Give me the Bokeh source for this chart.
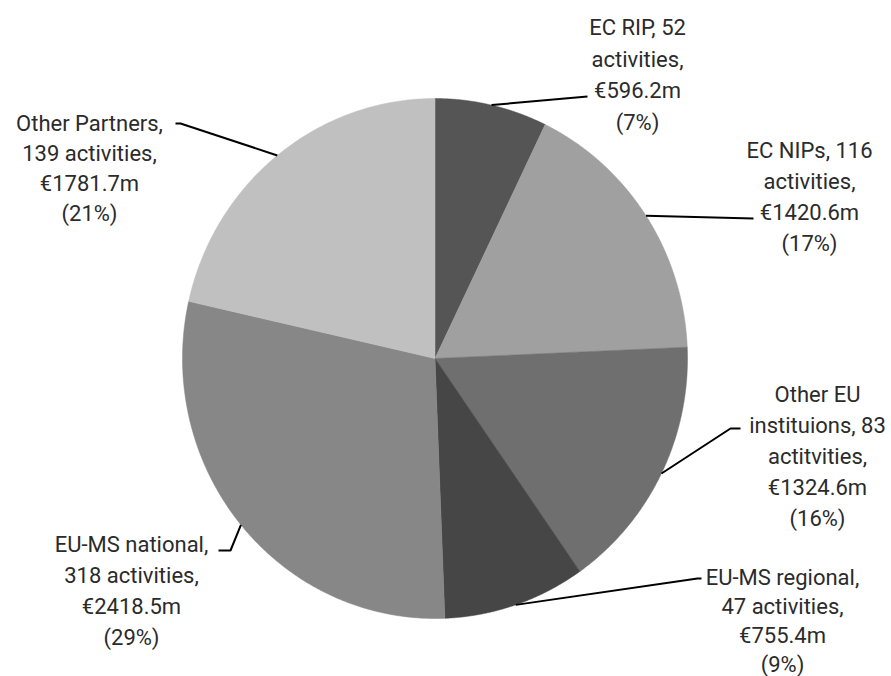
import numpy as np
from bokeh.plotting import figure
from bokeh.models import Range1d
from bokeh.core.properties import value
from bokeh.embed import file_html
from bokeh.resources import INLINE

# ---- data ----
categories = ["EC RIP", "EC NIPs", "Other EU instituions", "EU-MS regional",
              "EU-MS national", "Other Partners"]
amounts_m = [596.2, 1420.6, 1324.6, 755.4, 2418.5, 1781.7]
activities = [52, 116, 83, 47, 318, 139]
percent_labels = ["7%", "17%", "16%", "9%", "29%", "21%"]
label_lines = [
    ["EC RIP, 52", "activities,", "€596.2m", "(7%)"],
    ["EC NIPs, 116", "activities,", "€1420.6m", "(17%)"],
    ["Other EU", "instituions, 83", "actitvities,", "€1324.6m", "(16%)"],
    ["EU-MS regional,", "47 activities,", "€755.4m", "(9%)"],
    ["EU-MS national,", "318 activities,", "€2418.5m", "(29%)"],
    ["Other Partners,", "139 activities,", "€1781.7m", "(21%)"],
]

# ---- style / layout ----
colors = ["#555555", "#a0a0a0", "#6f6f6f", "#464646", "#878787", "#c0c0c0"]
W, H = 891, 676
CX, CY, RX, RY = 434.5, 358.0, 252.5, 260.0
FONT = "Roboto"
FSIZE = "22px"
TEXT_COLOR = "#2b2b2b"
# label block: centre x, first line y, line step
label_pos = [(637, 27, 31.5), (809, 150, 31), (817, 394, 31),
             (782, 577, 29), (131, 544, 31), (89, 123, 30)]
# leader line points after the pie-edge start
leader_tail = [[(587, 96)], [(753, 218)], [(730, 428), (740, 428)],
               [(697, 578), (701, 578)], [(230, 550), (218, 550)],
               [(180, 123), (175, 123)]]

p = figure(width=W, height=H, x_range=Range1d(0, W), y_range=Range1d(H, 0),
           output_backend="svg", toolbar_location=None, min_border=0,
           outline_line_color=None)
p.axis.visible = False
p.grid.visible = False
p.background_fill_color = "white"
p.border_fill_color = "white"

vals = np.array(amounts_m, dtype=float)
frac = vals / vals.sum()
cum = np.concatenate([[0.0], np.cumsum(frac)])

xs, ys = [], []
for i in range(len(vals)):
    a0, a1 = cum[i] * 2 * np.pi, cum[i + 1] * 2 * np.pi
    t = np.linspace(a0, a1, 200)
    px = np.concatenate([[CX], CX + RX * np.sin(t)])
    py = np.concatenate([[CY], CY - RY * np.cos(t)])
    xs.append(list(px))
    ys.append(list(py))
p.patches(xs, ys, fill_color=colors, line_color=colors, line_width=0.5)

# leader lines
lx, ly = [], []
for i in range(len(vals)):
    am = (cum[i] + frac[i] / 2) * 2 * np.pi
    sx, sy = CX + RX * np.sin(am), CY - RY * np.cos(am)
    pts = [(sx, sy)] + leader_tail[i]
    lx.append([q[0] for q in pts])
    ly.append([q[1] for q in pts])
p.multi_line(lx, ly, line_color="black", line_width=2)

# labels
tx, ty, tt = [], [], []
for i, lines in enumerate(label_lines):
    cxl, y0, step = label_pos[i]
    for k, s in enumerate(lines):
        tx.append(cxl)
        ty.append(y0 + k * step)
        tt.append(s)
p.text(tx, ty, text=tt, text_align="center", text_baseline="middle",
       text_font=value(FONT), text_font_size=FSIZE, text_color=TEXT_COLOR)

open("out.html", "w").write(file_html(p, INLINE))
